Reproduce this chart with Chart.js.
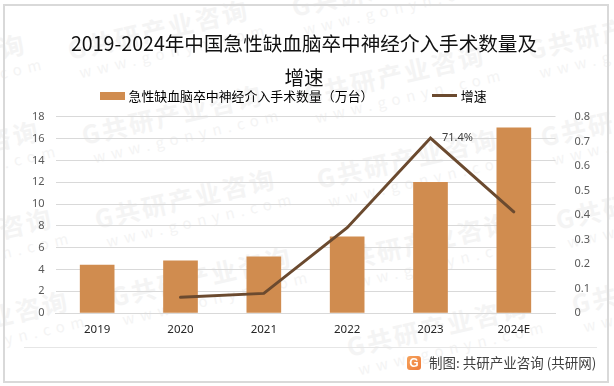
<!DOCTYPE html>
<html><head><meta charset="utf-8">
<script src="https://cdn.jsdelivr.net/npm/chart.js@4"></script>
<style>
html,body{margin:0;padding:0;background:#fff;overflow:hidden}
#wrap{position:relative;width:614px;height:386px;overflow:hidden;font-family:"Noto Sans CJK SC",sans-serif}
#frame{position:absolute;left:3px;top:4px;width:602px;height:375px;border:2px solid #d9d9d9}
#rule{position:absolute;left:24px;top:347px;width:573px;height:1px;background:#e6e6e6}
.wm{position:absolute;color:#f4f4f4;transform:rotate(-13deg);transform-origin:0 28px;white-space:nowrap;font-weight:700;font-size:25px;line-height:28px;letter-spacing:2.5px}
.wm small{display:block;font-weight:400;font-size:15px;letter-spacing:6px;line-height:22px;margin-left:6px}
#credit{position:absolute;left:429px;top:352px;font-size:13.5px;line-height:20px;color:#404040;white-space:nowrap}
#logo{position:absolute;left:407px;top:356px;width:14px;height:14px;border-radius:3px;background:linear-gradient(135deg,#f6a35c,#ee7a3a);color:#fff;font:700 12px/14px "Liberation Sans";text-align:center}
canvas{position:absolute;left:0;top:0}
</style></head><body>
<div id="wrap">
<div id="marks"></div>
<div id="frame"></div><div id="rule"></div>
<canvas id="c" width="614" height="386"></canvas>
<div id="logo">G</div><div id="credit">制图: 共研产业咨询 (共研网)</div>
</div>
<script>
const categories=['2019','2020','2021','2022','2023','2024E'];
const units=[4.4,4.8,5.15,7,12,17];
const growth=[null,0.064,0.08,0.348,0.714,0.413];
const leftTicks=[0,2,4,6,8,10,12,14,16,18];
const rightTicks=[0,0.1,0.2,0.3,0.4,0.5,0.6,0.7,0.8];
const titleLines=['2019-2024年中国急性缺血脑卒中神经介入手术数量及','增速'];
const barName='急性缺血脑卒中神经介入手术数量（万台）';
const lineName='增速';
const peakLabel='71.4%';
const FONT='"Noto Sans CJK SC",sans-serif';
const BAR='#d08c4f', LINE='#6b4a2f';

const marks=document.getElementById('marks');
[[71,63],[295,20],[531,63],[85,148],[307,108],[-152,97],[98,232],[320,192],[544,150],[-138,184],
 [114,310],[333,276],[559,233],[-125,271],[350,360],[575,317],[-109,354]].forEach(function(p){
  const d=document.createElement('div');d.className='wm';d.style.left=p[0]+'px';d.style.top=(p[1]-28)+'px';
  d.innerHTML='G共研产业咨询<small>www.gonyn.com</small>';marks.appendChild(d);
});

function swatch(color,h){const s=document.createElement('canvas');s.width=25;s.height=h;const g=s.getContext('2d');g.fillStyle=color;g.fillRect(0,0,25,h);return s;}

const peakPlugin={id:'peak',
 beforeLayout(ch){
  const lg=ch.legend;
  if(lg&&!lg._patched){lg._patched=true;const f=lg.fit;lg.fit=function(){f.call(this);this.height=22;};}
 },
 afterLayout(ch){
  const lg=ch.legend;lg.left-=9.15;lg.right-=9.15;lg.top=96-62-6.5;
 },
 afterDatasetsDraw(ch){
  const i=growth.indexOf(0.714),x=ch.scales.x.getPixelForValue(i),y=ch.scales.y1.getPixelForValue(growth[i]);
  const c=ch.ctx;c.save();c.font='11px "Noto Sans",sans-serif';c.fillStyle='#404040';c.textBaseline='middle';c.fillText(peakLabel,x+11.5,y);c.restore();
 }};
new Chart(document.getElementById('c'),{
 type:'bar',
 data:{labels:categories,datasets:[
  {type:'line',label:lineName,data:growth,yAxisID:'y1',borderColor:LINE,backgroundColor:LINE,borderWidth:3,borderCapStyle:'round',borderJoinStyle:'miter',pointRadius:0,tension:0,spanGaps:false,order:0},
  {type:'bar',label:barName,data:units,yAxisID:'y',backgroundColor:BAR,barThickness:34,order:1}
 ]},
 options:{responsive:false,animation:false,
  layout:{padding:{left:0,right:6,top:26,bottom:0}},
  plugins:{
   title:{display:true,text:titleLines,color:'#111',font:{family:FONT,size:19.6,weight:'normal',lineHeight:1.76},padding:{top:0,bottom:0}},
   legend:{position:'top',labels:{color:'#262626',font:{family:FONT,size:12.9},usePointStyle:true,pointStyleWidth:19,boxHeight:8,padding:62,
     generateLabels(){return [
       {text:barName,fillStyle:BAR,strokeStyle:BAR,lineWidth:0,pointStyle:swatch(BAR,8),datasetIndex:1},
       {text:lineName,fillStyle:LINE,strokeStyle:LINE,lineWidth:0,pointStyle:swatch(LINE,3),datasetIndex:0}
     ];}}},
   tooltip:{enabled:false}
  },
  scales:{
   x:{grid:{display:false},border:{color:'#d9d9d9'},ticks:{color:'#262626',font:{family:'"Noto Sans",sans-serif',size:11.5},padding:2,maxRotation:0,autoSkip:false},afterFit(a){a.height=73;}},
   y:{position:'left',min:0,max:18,afterBuildTicks(a){a.ticks=leftTicks.map(v=>({value:v}));},grid:{color:'#d9d9d9',drawTicks:false},border:{display:false},
      ticks:{color:'#595959',font:{family:'"Noto Sans",sans-serif',size:11},padding:11,autoSkip:false},afterFit(a){a.width=55.5;}},
   y1:{position:'right',min:0,max:0.8,afterBuildTicks(a){a.ticks=rightTicks.map(v=>({value:v}));},grid:{display:false},border:{display:false},
      ticks:{color:'#595959',font:{family:'"Noto Sans",sans-serif',size:11},padding:11,autoSkip:false,callback:v=>String(v)},afterFit(a){a.width=52.5;}}
  }
 },
 plugins:[peakPlugin]
});
</script>
</body></html>
